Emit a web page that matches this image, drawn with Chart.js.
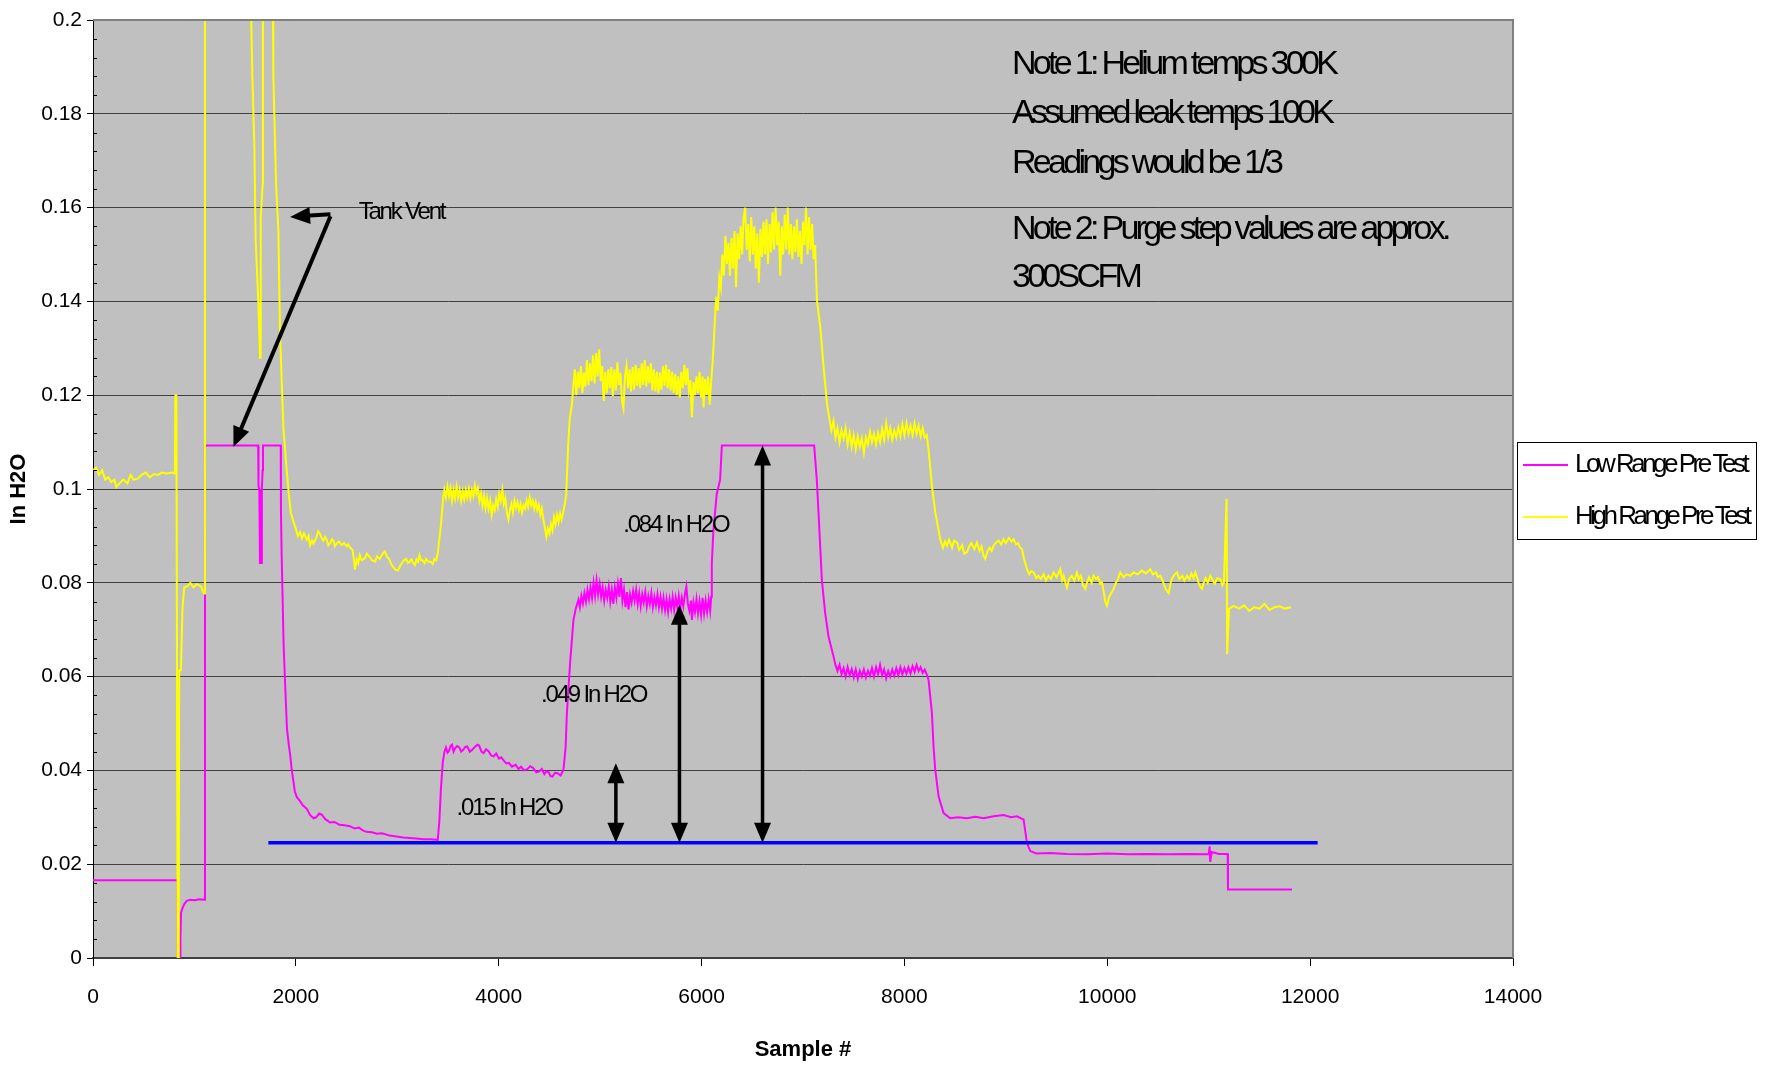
<!DOCTYPE html>
<html>
<head>
<meta charset="utf-8">
<script src="https://cdn.jsdelivr.net/npm/chart.js@4.4.1/dist/chart.umd.min.js"></script>
<style>
  html, body { margin: 0; padding: 0; background: #fff; }
  canvas { display: block; }
</style>
</head>
<body>
<canvas id="leakChart" width="1768" height="1067"></canvas>
<script>
// ---- data (sample #, In H2O) ----
const lowX = [
  0, 835, 836, 858, 862, 868, 880, 900, 924, 960,
  1000, 1050, 1100, 1104, 1300, 1500, 1628, 1632, 1640, 1646,
  1662, 1665, 1672, 1676, 1851, 1853, 1860, 1870, 1879, 1895,
  1912, 1930, 1944, 1960, 1977, 1990, 2010, 2040, 2070, 2108,
  2140, 2173, 2200, 2230, 2255, 2290, 2337, 2380, 2430, 2480,
  2533, 2580, 2620, 2660, 2696, 2750, 2800, 2850, 2925, 2990,
  3060, 3120, 3186, 3260, 3330, 3399, 3415, 3430, 3448, 3465,
  3480, 3495, 3510, 3525, 3540, 3555, 3570, 3590, 3611, 3630,
  3650, 3670, 3690, 3715, 3740, 3765, 3790, 3807, 3830, 3850,
  3875, 3900, 3925, 3950, 3975, 4003, 4025, 4050, 4075, 4100,
  4130, 4167, 4195, 4220, 4250, 4280, 4310, 4340, 4370, 4400,
  4425, 4450, 4470, 4494, 4510, 4530, 4555, 4580, 4610, 4638,
  4660, 4672, 4704, 4737, 4760, 4786, 4800, 4815, 4830, 4845,
  4860, 4875, 4890, 4905, 4920, 4935, 4950, 4965, 4980, 4995,
  5010, 5025, 5040, 5055, 5070, 5085, 5100, 5115, 5130, 5145,
  5160, 5175, 5190, 5205, 5220, 5235, 5250, 5265, 5280, 5295,
  5310, 5325, 5340, 5355, 5370, 5385, 5400, 5415, 5430, 5445,
  5460, 5475, 5490, 5505, 5520, 5535, 5550, 5565, 5580, 5595,
  5610, 5625, 5640, 5655, 5670, 5685, 5700, 5715, 5730, 5745,
  5760, 5775, 5790, 5805, 5820, 5835, 5850, 5865, 5880, 5895,
  5905, 5920, 5935, 5950, 5965, 5980, 5995, 6010, 6025, 6040,
  6055, 6070, 6085, 6095, 6101, 6117, 6150, 6183, 6200, 6500,
  6800, 7110, 7136, 7153, 7186, 7219, 7252, 7301, 7320, 7340,
  7360, 7380, 7400, 7420, 7440, 7460, 7480, 7500, 7520, 7540,
  7560, 7580, 7600, 7620, 7640, 7660, 7680, 7700, 7720, 7740,
  7760, 7780, 7800, 7820, 7840, 7860, 7880, 7900, 7920, 7940,
  7960, 7980, 8000, 8020, 8040, 8060, 8080, 8100, 8120, 8140,
  8160, 8180, 8200, 8220, 8238, 8271, 8287, 8304, 8337, 8386,
  8452, 8530, 8616, 8700, 8780, 8880, 8978, 9050, 9110, 9175,
  9208, 9241, 9300, 9438, 9600, 9800, 10000, 10200, 10400, 10600,
  10800, 11000, 11009, 11015, 11030, 11100, 11187, 11190, 11821];
const lowY = [
  .0166, .0166, 0, 0, .004, .0096, .0105, .0115, .0122, .0124,
  .0123, .0125, .0124, .1093, .1093, .1093, .1093, .1005, .1000, .0842,
  .0842, .1000, .1040, .1093, .1093, .0955, .0860, .0760, .0670, .0580,
  .0490, .0455, .0433, .0400, .0375, .0355, .0343, .0335, .0325, .0318,
  .0305, .0298, .0300, .0308, .0306, .0296, .0289, .0290, .0284, .0283,
  .0281, .0276, .0278, .0272, .0269, .0268, .0265, .0266, .0261, .0259,
  .0257, .0256, .0255, .0253, .0253, .0252, .0293, .0360, .0416, .0440,
  .0449, .0438, .0442, .0452, .0455, .0440, .0447, .0452, .0449, .0440,
  .0444, .0450, .0451, .0440, .0444, .0450, .0455, .0453, .0440, .0437,
  .0445, .0441, .0432, .0430, .0436, .0425, .0428, .0421, .0415, .0416,
  .0408, .0412, .0403, .0408, .0400, .0402, .0409, .0405, .0396, .0398,
  .0403, .0392, .0398, .0396, .0388, .0387, .0395, .0394, .0389, .0401,
  .0450, .0522, .0630, .0721, .0745, .0764, .0748, .0772, .0756, .0778,
  .0760, .0785, .0765, .0790, .0768, .0800, .0772, .0805, .0775, .0798,
  .0770, .0790, .0762, .0785, .0768, .0792, .0760, .0785, .0755, .0790,
  .0768, .0798, .0770, .0810, .0762, .0785, .0748, .0780, .0743, .0775,
  .0758, .0782, .0762, .0785, .0755, .0778, .0750, .0775, .0758, .0780,
  .0750, .0772, .0755, .0778, .0748, .0770, .0752, .0775, .0748, .0770,
  .0745, .0768, .0742, .0765, .0738, .0765, .0745, .0770, .0742, .0768,
  .0748, .0772, .0745, .0768, .0750, .0775, .0792, .0755, .0740, .0762,
  .0721, .0758, .0738, .0765, .0735, .0760, .0732, .0768, .0735, .0762,
  .0738, .0765, .0740, .0770, .0842, .0913, .0990, .1020, .1093, .1093,
  .1093, .1093, .1020, .0950, .0806, .0735, .0685, .0643, .0625, .0612,
  .0625, .0605, .0618, .0600, .0620, .0603, .0616, .0598, .0615, .0595,
  .0612, .0600, .0615, .0598, .0612, .0602, .0618, .0600, .0620, .0605,
  .0625, .0603, .0615, .0596, .0612, .0600, .0615, .0602, .0618, .0603,
  .0620, .0605, .0618, .0606, .0620, .0607, .0622, .0610, .0625, .0612,
  .0620, .0608, .0615, .0605, .0593, .0522, .0451, .0401, .0344, .0309,
  .0298, .0300, .0298, .0301, .0298, .0302, .0305, .0300, .0302, .0295,
  .0245, .0228, .0223, .0224, .0222, .0221, .0223, .0221, .0222, .0221,
  .0222, .0221, .0238, .0205, .0226, .0222, .0222, .0146, .0146];

const highX = [
  0, 30, 60, 90, 120, 150, 180, 210, 230, 260,
  300, 340, 370, 400, 440, 480, 520, 560, 600, 640,
  680, 720, 780, 808, 812, 822, 835, 845, 850, 866,
  882, 899, 931, 960, 990, 1020, 1062, 1095, 1104, 1540,
  1560, 1571, 1591, 1604, 1630, 1647, 1652, 1655, 1673, 1675,
  1680, 1760, 1775, 1778, 1805, 1828, 1844, 1877, 1910, 1930,
  1950, 1977, 2000, 2020, 2042, 2060, 2080, 2108, 2125, 2140,
  2160, 2173, 2200, 2220, 2239, 2255, 2270, 2290, 2304, 2320,
  2340, 2355, 2370, 2385, 2402, 2425, 2450, 2475, 2500, 2515,
  2533, 2550, 2560, 2575, 2582, 2600, 2615, 2631, 2650, 2680,
  2700, 2729, 2750, 2780, 2800, 2827, 2850, 2876, 2900, 2920,
  2940, 2958, 2980, 3007, 3025, 3040, 3065, 3088, 3105, 3120,
  3140, 3154, 3175, 3190, 3205, 3219, 3235, 3250, 3270, 3284,
  3305, 3330, 3350, 3366, 3385, 3399, 3431, 3450, 3464, 3480,
  3495, 3510, 3525, 3540, 3555, 3570, 3585, 3600, 3615, 3630,
  3645, 3660, 3675, 3690, 3705, 3720, 3735, 3750, 3765, 3780,
  3795, 3810, 3825, 3840, 3855, 3870, 3885, 3900, 3915, 3930,
  3945, 3960, 3975, 3990, 4005, 4020, 4036, 4050, 4065, 4080,
  4095, 4110, 4125, 4140, 4155, 4170, 4185, 4200, 4215, 4230,
  4245, 4260, 4275, 4290, 4305, 4320, 4335, 4350, 4365, 4380,
  4395, 4410, 4425, 4440, 4455, 4470, 4485, 4500, 4515, 4530,
  4545, 4560, 4575, 4590, 4605, 4620, 4640, 4665, 4684, 4700,
  4721, 4736, 4750, 4765, 4780, 4795, 4810, 4825, 4840, 4855,
  4870, 4885, 4900, 4915, 4930, 4945, 4960, 4975, 4990, 5005,
  5020, 5035, 5050, 5065, 5080, 5095, 5110, 5125, 5140, 5155,
  5170, 5185, 5200, 5215, 5230, 5245, 5260, 5275, 5290, 5305,
  5320, 5335, 5350, 5365, 5380, 5395, 5410, 5425, 5440, 5455,
  5470, 5485, 5500, 5515, 5530, 5545, 5560, 5575, 5590, 5605,
  5620, 5635, 5650, 5665, 5680, 5695, 5710, 5725, 5740, 5755,
  5770, 5785, 5800, 5815, 5830, 5845, 5860, 5875, 5890, 5905,
  5920, 5935, 5950, 5965, 5980, 5995, 6010, 6020, 6035, 6050,
  6065, 6080, 6095, 6110, 6122, 6134, 6145, 6160, 6175, 6190,
  6205, 6220, 6235, 6250, 6265, 6280, 6295, 6310, 6325, 6340,
  6355, 6370, 6385, 6400, 6415, 6430, 6445, 6460, 6475, 6490,
  6505, 6520, 6535, 6550, 6565, 6580, 6595, 6610, 6625, 6640,
  6655, 6670, 6685, 6700, 6715, 6730, 6745, 6760, 6775, 6790,
  6805, 6820, 6835, 6850, 6865, 6880, 6895, 6910, 6925, 6940,
  6955, 6970, 6985, 7000, 7015, 7030, 7045, 7060, 7075, 7090,
  7105, 7120, 7137, 7170, 7203, 7236, 7260, 7280, 7300, 7320,
  7340, 7360, 7380, 7400, 7420, 7440, 7460, 7480, 7500, 7520,
  7540, 7560, 7580, 7600, 7620, 7640, 7660, 7680, 7700, 7720,
  7740, 7760, 7780, 7800, 7820, 7840, 7860, 7880, 7900, 7920,
  7940, 7960, 7980, 8000, 8020, 8040, 8060, 8080, 8100, 8120,
  8140, 8160, 8180, 8200, 8220, 8238, 8271, 8304, 8353, 8380,
  8400, 8419, 8440, 8470, 8490, 8518, 8540, 8570, 8590, 8616,
  8640, 8660, 8690, 8715, 8740, 8760, 8780, 8797, 8820, 8840,
  8860, 8879, 8900, 8930, 8955, 8978, 9000, 9030, 9055, 9076,
  9100, 9120, 9140, 9159, 9180, 9208, 9230, 9250, 9274, 9300,
  9320, 9345, 9372, 9395, 9420, 9445, 9471, 9500, 9536, 9555,
  9570, 9590, 9602, 9625, 9650, 9675, 9701, 9720, 9740, 9760,
  9783, 9800, 9820, 9845, 9865, 9890, 9910, 9930, 9948, 9965,
  9980, 9997, 10015, 10030, 10050, 10063, 10085, 10100, 10128, 10160,
  10190, 10225, 10260, 10300, 10340, 10380, 10424, 10450, 10480, 10500,
  10523, 10545, 10560, 10580, 10605, 10625, 10640, 10665, 10687, 10710,
  10740, 10760, 10786, 10810, 10830, 10850, 10868, 10885, 10900, 10920,
  10934, 10950, 10970, 10990, 11016, 11040, 11060, 11085, 11114, 11135,
  11150, 11176, 11182, 11200, 11246, 11300, 11350, 11400, 11450, 11500,
  11550, 11600, 11650, 11700, 11750, 11812];
const highY = [
  .1040, .1045, .1030, .1040, .1020, .1025, .1015, .1020, .1004, .1012,
  .1020, .1012, .1030, .1020, .1022, .1030, .1035, .1025, .1032, .1030,
  .1035, .1033, .1035, .1033, .1200, .1200, 0, 0, .0613, .0613,
  .0744, .0790, .0793, .0800, .0790, .0797, .0793, .0777, .3000, .3000,
  .2000, .1880, .1730, .1530, .1400, .1280, .1400, .1580, .1650, .2000,
  .3000, .3000, .2000, .1880, .1650, .1550, .1330, .1130, .1040, .0990,
  .0950, .0930, .0915, .0900, .0908, .0895, .0905, .0892, .0900, .0880,
  .0890, .0884, .0895, .0910, .0904, .0895, .0890, .0898, .0892, .0880,
  .0885, .0893, .0890, .0878, .0884, .0888, .0880, .0885, .0878, .0882,
  .0875, .0872, .0870, .0845, .0828, .0850, .0842, .0859, .0848, .0852,
  .0862, .0855, .0848, .0845, .0856, .0851, .0860, .0867, .0855, .0850,
  .0840, .0834, .0828, .0826, .0835, .0840, .0848, .0851, .0842, .0845,
  .0850, .0843, .0838, .0850, .0845, .0859, .0848, .0848, .0842, .0851,
  .0845, .0845, .0840, .0851, .0848, .0863, .0925, .0975, .0998, .0982,
  .1005, .0985, .1002, .0975, .0998, .0980, .1005, .0982, .0998, .0975,
  .0995, .0978, .0998, .0982, .1000, .0980, .0998, .0985, .1008, .0990,
  .1002, .0975, .0990, .0965, .0985, .0960, .0980, .0958, .0975, .0945,
  .0965, .0955, .0978, .0962, .0990, .0975, .0998, .0968, .0980, .0950,
  .0935, .0955, .0968, .0950, .0975, .0960, .0972, .0955, .0968, .0950,
  .0965, .0958, .0975, .0962, .0982, .0965, .0975, .0958, .0972, .0955,
  .0966, .0945, .0958, .0935, .0918, .0898, .0915, .0905, .0925, .0912,
  .0940, .0925, .0945, .0930, .0948, .0935, .0955, .0985, .1090, .1150,
  .1178, .1220, .1255, .1200, .1250, .1215, .1262, .1205, .1248, .1218,
  .1275, .1222, .1268, .1230, .1285, .1225, .1290, .1240, .1298, .1230,
  .1262, .1188, .1250, .1205, .1255, .1215, .1260, .1198, .1255, .1210,
  .1270, .1222, .1248, .1190, .1172, .1240, .1262, .1215, .1255, .1208,
  .1260, .1212, .1265, .1220, .1258, .1215, .1268, .1222, .1275, .1218,
  .1262, .1225, .1268, .1210, .1255, .1208, .1250, .1205, .1248, .1212,
  .1262, .1220, .1265, .1215, .1255, .1210, .1250, .1205, .1245, .1200,
  .1240, .1195, .1250, .1215, .1265, .1222, .1258, .1210, .1232, .1153,
  .1228, .1200, .1240, .1205, .1250, .1195, .1240, .1174, .1235, .1200,
  .1240, .1180, .1230, .1274, .1320, .1373, .1410, .1380, .1450, .1430,
  .1500, .1455, .1540, .1480, .1525, .1455, .1535, .1470, .1550, .1430,
  .1545, .1490, .1560, .1500, .1580, .1600, .1510, .1565, .1485, .1580,
  .1500, .1560, .1470, .1545, .1440, .1555, .1495, .1570, .1500, .1575,
  .1480, .1565, .1505, .1590, .1510, .1600, .1520, .1570, .1455, .1560,
  .1500, .1585, .1510, .1600, .1500, .1565, .1490, .1560, .1505, .1575,
  .1495, .1550, .1480, .1570, .1520, .1600, .1500, .1580, .1510, .1565,
  .1490, .1520, .1403, .1346, .1260, .1183, .1150, .1125, .1145, .1110,
  .1130, .1100, .1125, .1108, .1130, .1095, .1120, .1090, .1115, .1085,
  .1112, .1090, .1108, .1077, .1110, .1095, .1122, .1100, .1118, .1095,
  .1120, .1100, .1128, .1105, .1140, .1110, .1130, .1105, .1125, .1110,
  .1132, .1112, .1138, .1115, .1141, .1118, .1135, .1115, .1140, .1118,
  .1135, .1112, .1130, .1110, .1115, .1084, .1006, .0950, .0893, .0875,
  .0888, .0879, .0892, .0875, .0890, .0886, .0870, .0880, .0862, .0865,
  .0878, .0885, .0872, .0886, .0868, .0878, .0858, .0851, .0868, .0875,
  .0868, .0879, .0885, .0890, .0882, .0893, .0885, .0896, .0888, .0893,
  .0882, .0885, .0875, .0872, .0850, .0829, .0818, .0825, .0822, .0810,
  .0815, .0808, .0818, .0805, .0815, .0808, .0822, .0812, .0829, .0805,
  .0815, .0798, .0790, .0808, .0815, .0805, .0822, .0808, .0815, .0795,
  .0787, .0800, .0812, .0800, .0815, .0808, .0812, .0798, .0801, .0780,
  .0760, .0751, .0768, .0775, .0782, .0787, .0800, .0805, .0822, .0812,
  .0818, .0815, .0822, .0818, .0826, .0820, .0829, .0818, .0822, .0812,
  .0815, .0805, .0795, .0785, .0778, .0800, .0810, .0818, .0822, .0808,
  .0815, .0805, .0815, .0808, .0820, .0810, .0822, .0812, .0800, .0790,
  .0787, .0800, .0810, .0800, .0815, .0805, .0798, .0810, .0808, .0795,
  .0800, .0979, .0648, .0745, .0751, .0745, .0752, .0740, .0748, .0745,
  .0755, .0742, .0748, .0750, .0745, .0748];

// blue reference line
const baseX = [1729, 12074];
const baseY = [0.0246, 0.0246];

// double arrows: sample, top value (bottom sits on the blue line)
const spanX = [5155, 5782, 6601];
const spanTop = [0.0415, 0.0753, 0.1093];

const notes = ['Note 1: Helium temps 300K', 'Assumed leak temps 100K', 'Readings would be 1/3', 'Note 2: Purge step values are approx.', '300SCFM'];
const noteY = [0.1904, 0.1801, 0.1694, 0.1552, 0.1450];

const FONT = '"Liberation Sans", Arial, sans-serif';

function pts(xs, ys) {
  return xs.map((x, i) => ({ x: x, y: ys[i] }));
}

function arrowHead(ctx, x1, y1, x2, y2, len, wid) {
  const a = Math.atan2(y2 - y1, x2 - x1);
  ctx.beginPath();
  ctx.moveTo(x2, y2);
  ctx.lineTo(x2 - len * Math.cos(a) + wid / 2 * Math.sin(a), y2 - len * Math.sin(a) - wid / 2 * Math.cos(a));
  ctx.lineTo(x2 - len * Math.cos(a) - wid / 2 * Math.sin(a), y2 - len * Math.sin(a) + wid / 2 * Math.cos(a));
  ctx.closePath();
  ctx.fill();
}

function arrow(ctx, x1, y1, x2, y2, both) {
  const a = Math.atan2(y2 - y1, x2 - x1);
  const sx = both ? x1 + 16 * Math.cos(a) : x1, sy = both ? y1 + 16 * Math.sin(a) : y1;
  ctx.beginPath();
  ctx.moveTo(sx, sy);
  ctx.lineTo(x2 - 16 * Math.cos(a), y2 - 16 * Math.sin(a));
  ctx.stroke();
  arrowHead(ctx, x1, y1, x2, y2, 20, 17);
  if (both) arrowHead(ctx, x2, y2, x1, y1, 20, 17);
}

function text(ctx, s, x, y, size, spacing) {
  ctx.font = size + 'px ' + FONT;
  ctx.letterSpacing = spacing + 'px';
  ctx.fillText(s, x, y);
}

const decor = {
  id: 'decor',
  beforeDraw(chart) {
    const { ctx, chartArea: a } = chart;
    ctx.save();
    ctx.fillStyle = '#c0c0c0';
    ctx.fillRect(a.left, a.top, a.right - a.left, a.bottom - a.top);
    ctx.restore();
  },
  afterDatasetsDraw(chart) {
    const { ctx, chartArea: a } = chart;
    const xs = chart.scales.x, ys = chart.scales.y;
    ctx.save();
    // frame top / right
    ctx.strokeStyle = '#808080';
    ctx.lineWidth = 2;
    ctx.beginPath();
    ctx.moveTo(a.left, a.top);
    ctx.lineTo(a.right, a.top);
    ctx.lineTo(a.right, a.bottom);
    ctx.stroke();
    // minor ticks on the value axis
    ctx.strokeStyle = '#000';
    ctx.lineWidth = 1;
    for (let i = 1; i < 50; i++) {
      if (i % 5 === 0) continue;
      const y = Math.round(ys.getPixelForValue(i * 0.004)) + 0.5;
      ctx.beginPath();
      ctx.moveTo(a.left, y);
      ctx.lineTo(a.left + 4, y);
      ctx.stroke();
    }
    // arrows
    ctx.strokeStyle = '#000';
    ctx.fillStyle = '#000';
    ctx.lineWidth = 3.5;
    spanX.forEach((s, i) => {
      const x = xs.getPixelForValue(s);
      arrow(ctx, x, ys.getPixelForValue(spanTop[i]), x, ys.getPixelForValue(baseY[0]), true);
    });
    const tx = xs.getPixelForValue(2341), ty = ys.getPixelForValue(0.1586);
    ctx.lineWidth = 4;
    arrow(ctx, tx, ty, xs.getPixelForValue(1943), ys.getPixelForValue(0.158), false);
    arrow(ctx, tx, ty + 2, xs.getPixelForValue(1385), ys.getPixelForValue(0.1090), false);
    // texts
    ctx.textBaseline = 'middle';
    ctx.textAlign = 'left';
    text(ctx, 'Tank Vent', xs.getPixelForValue(2619), ys.getPixelForValue(0.159), 24, -2.2);
    text(ctx, '.015 In H2O', xs.getPixelForValue(3585), ys.getPixelForValue(0.0319), 24, -2.2);
    text(ctx, '.049 In H2O', xs.getPixelForValue(4418), ys.getPixelForValue(0.0561), 24, -2.2);
    text(ctx, '.084 In H2O', xs.getPixelForValue(5227), ys.getPixelForValue(0.0923), 24, -2.2);
    notes.forEach((n, i) => {
      text(ctx, n, xs.getPixelForValue(9060), ys.getPixelForValue(noteY[i]), 34, -3.7);
    });
    ctx.restore();
  },
  afterDraw(chart) {
    const { ctx } = chart;
    ctx.save();
    // legend box
    ctx.fillStyle = '#fff';
    ctx.fillRect(1517.5, 442.5, 239, 97);
    ctx.strokeStyle = '#000';
    ctx.lineWidth = 1;
    ctx.strokeRect(1517.5, 442.5, 239, 97);
    const items = chart.data.datasets.filter(d => d.label);
    items.forEach((d, i) => {
      const y = 465 + i * 52;
      ctx.strokeStyle = d.borderColor;
      ctx.lineWidth = 2;
      ctx.beginPath();
      ctx.moveTo(1523, y);
      ctx.lineTo(1568, y);
      ctx.stroke();
      ctx.fillStyle = '#000';
      ctx.textBaseline = 'middle';
      text(ctx, d.label, 1575, y, 26, -3.5);
    });
    ctx.restore();
  }
};

new Chart(document.getElementById('leakChart'), {
  type: 'line',
  data: {
    datasets: [
      {
        label: '',
        data: pts(baseX, baseY),
        borderColor: '#0000ff',
        borderWidth: 3.5,
        pointRadius: 0,
        order: -1
      },
      {
        label: 'Low Range Pre Test',
        data: pts(lowX, lowY),
        borderColor: '#ff00ff',
        borderWidth: 2,
        pointRadius: 0,
        order: 2
      },
      {
        label: 'High Range Pre Test',
        data: pts(highX, highY),
        borderColor: '#ffff00',
        borderWidth: 2,
        pointRadius: 0,
        order: 1
      }
    ]
  },
  options: {
    responsive: false,
    animation: false,
    devicePixelRatio: 1,
    layout: { padding: { top: 20, right: 255, left: 0, bottom: 0 } },
    plugins: {
      legend: { display: false },
      tooltip: { enabled: false }
    },
    scales: {
      x: {
        type: 'linear',
        min: 0,
        max: 14000,
        afterFit: s => { s.height = 109; },
        ticks: {
          stepSize: 2000,
          color: '#000',
          padding: 19,
          font: { family: FONT, size: 21 },
          callback: v => String(v)
        },
        grid: { drawOnChartArea: false, tickLength: 8, tickColor: '#000' },
        border: { color: '#404040', width: 2 },
        title: {
          display: true,
          text: 'Sample #',
          color: '#000',
          padding: { top: 0, bottom: 4 },
          font: { family: FONT, size: 22, weight: 'bold' }
        }
      },
      y: {
        min: 0,
        max: 0.2,
        afterFit: s => { s.width = 93; },
        ticks: {
          stepSize: 0.02,
          color: '#000',
          padding: 5,
          font: { family: FONT, size: 21 },
          callback: v => String(+v.toFixed(3))
        },
        grid: { color: '#404040', lineWidth: 1, tickLength: 6, tickColor: '#000' },
        border: { color: '#000', width: 1 },
        title: {
          display: true,
          text: 'In H2O',
          color: '#000',
          padding: { top: 6, bottom: 0 },
          font: { family: FONT, size: 22, weight: 'bold' }
        }
      }
    }
  },
  plugins: [decor]
});
</script>
</body>
</html>
